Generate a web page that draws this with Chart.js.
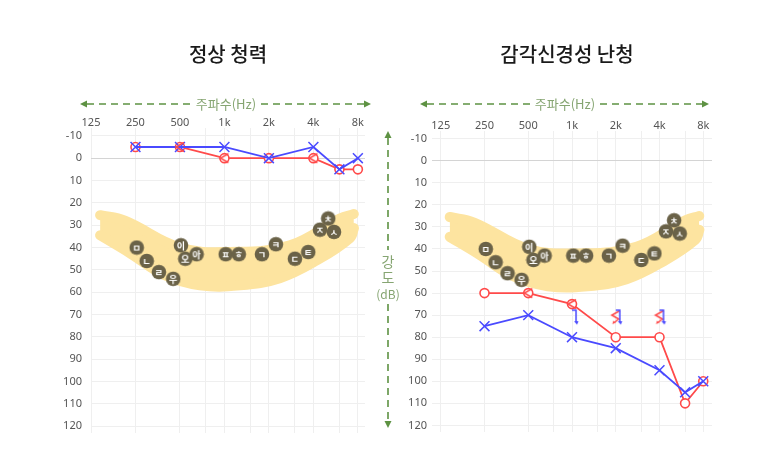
<!DOCTYPE html>
<html>
<head>
<meta charset="utf-8">
<script src="https://cdn.jsdelivr.net/npm/chart.js@4.4.0/dist/chart.umd.min.js"></script>
<style>
body { margin: 0; background: #fff; width: 757px; height: 462px; position: relative; overflow: hidden; }
.box { position: absolute; top: 0; height: 462px; }
#overlay { position: absolute; left: 0; top: 0; pointer-events: none; font-family: "Noto Sans CJK KR", sans-serif; }
</style>
</head>
<body>
<div class="box" style="left:0;width:378px"><canvas id="normal"></canvas></div>
<div class="box" style="left:378px;width:379px"><canvas id="loss"></canvas></div>
<svg id="overlay" width="757" height="462">
  <text x="228" y="62" text-anchor="middle" font-size="20" font-weight="500" fill="#1a1a1a">정상 청력</text>
  <text x="567" y="62" text-anchor="middle" font-size="20" font-weight="500" fill="#1a1a1a">감각신경성 난청</text>
  <g stroke="#5e9243" stroke-width="1.6" stroke-dasharray="7 5" fill="none">
    <line x1="87" y1="104" x2="192" y2="104"/>
    <line x1="261" y1="104" x2="364" y2="104"/>
    <line x1="427" y1="104" x2="531" y2="104"/>
    <line x1="600" y1="104" x2="702" y2="104"/>
    <line x1="388" y1="138" x2="388" y2="250"/>
    <line x1="388" y1="304" x2="388" y2="421"/>
  </g>
  <g fill="#5e9243">
    <polygon points="80,104 87,100.5 87,107.5"/>
    <polygon points="371,104 364,100.5 364,107.5"/>
    <polygon points="420,104 427,100.5 427,107.5"/>
    <polygon points="709,104 702,100.5 702,107.5"/>
    <polygon points="388,131 384.5,138 391.5,138"/>
    <polygon points="388,428 384.5,421 391.5,421"/>
  </g>
  <g fill="#86a572" text-anchor="middle">
    <text x="226" y="108.5" font-size="13">주파수(Hz)</text>
    <text x="565" y="108.5" font-size="13">주파수(Hz)</text>
    <text x="388" y="267" font-size="14">강</text>
    <text x="388" y="283" font-size="14">도</text>
    <text x="388" y="299" font-size="12">(dB)</text>
  </g>
</svg>
<script>
// 주파수 / 눈금
var freqs = [250, 500, 1000, 2000, 4000, 6000, 8000];
var gridFreqs = [125, 250, 500, 750, 1000, 1500, 2000, 3000, 4000, 6000, 8000];
var freqLabels = { 125: '125', 250: '250', 500: '500', 1000: '1k', 2000: '2k', 4000: '4k', 8000: '8k' };
var dbTicks = [-10, 0, 10, 20, 30, 40, 50, 60, 70, 80, 90, 100, 110, 120];

// 정상 청력
var normalRightAir = [-5, -5, 0, 0, 0, 5, 5];
var normalLeftAir = [-5, -5, -5, 0, -5, 5, 0];
var normalBoneFreqs = [500, 1000, 4000];
var normalRightBone = [-5, 0, 0];

// 감각신경성 난청
var lossRightAir = [60, 60, 65, 80, 80, 110, 100];
var lossLeftAir = [75, 70, 80, 85, 95, 105, 100];
var lossBoneFreqs = [500, 1000, 2000, 4000];
var lossRightBone = [60, 65, 70, 70];
var lossRightNoResp = [false, false, true, true];
var lossLeftBoneFreqs = [1000, 2000, 4000];
var lossLeftBone = [70, 70, 70];

// 말소리 바나나
var speechSounds = ['ㅁ', 'ㄴ', 'ㄹ', '우', '이', '오', '아', 'ㅍ', 'ㅎ', 'ㄱ', 'ㅋ', 'ㄷ', 'ㅌ', 'ㅈ', 'ㅊ', 'ㅅ'];
var speechFreqs = [255, 298, 360, 450, 508, 543, 648, 1020, 1250, 1794, 2230, 3000, 3690, 4430, 5040, 5510];
var speechDb = [40, 46, 51, 54, 39, 45, 43, 43, 43, 43, 38.5, 45, 42, 32, 27, 33];
var bananaTopFreqs = [144, 212, 500, 1087, 2775, 6047, 7510];
var bananaTopDb = [25.5, 28, 40, 42, 39, 27, 25];
var bananaBottomFreqs = [144, 229, 395, 682, 1276, 2374, 4232, 7060, 7530];
var bananaBottomDb = [34.5, 42.5, 52.4, 56.9, 56.9, 53.7, 45.7, 35.8, 31.3];

var RED = '#ff4a4a';
var BLUE = '#4a4aff';
var BANANA = '#fde4a0';

function pts(xs, ys) {
    return xs.map(function (x, i) { return { x: x, y: ys[i] }; });
}

function icon(size, draw) {
    var c = document.createElement('canvas');
    c.width = size; c.height = size;
    var g = c.getContext('2d');
    draw(g, size / 2);
    return c;
}

// 우측 골도 '<'
function boneRightIcon(noResp) {
    return icon(24, function (g, c) {
        g.strokeStyle = RED; g.fillStyle = RED; g.lineWidth = 1.5;
        g.beginPath(); g.moveTo(c + 4, c - 4.5); g.lineTo(c - 4, c); g.lineTo(c + 4, c + 4.5); g.stroke();
        if (noResp) {
            g.beginPath(); g.moveTo(c + 2, c + 4.5); g.lineTo(c - 1, c + 7); g.stroke();
            g.beginPath(); g.moveTo(c - 3.5, c + 9); g.lineTo(c - 2.5, c + 5.5); g.lineTo(c, c + 7.5); g.closePath(); g.fill();
        }
    });
}

// 좌측 골도 ']' (무반응)
var boneLeftIcon = icon(24, function (g, c) {
    g.strokeStyle = BLUE; g.fillStyle = BLUE; g.lineWidth = 1.5;
    g.beginPath(); g.moveTo(c, c - 5); g.lineTo(c + 4, c - 5); g.lineTo(c + 4, c + 6); g.stroke();
    g.beginPath(); g.moveTo(c + 2, c + 6); g.lineTo(c + 6.5, c + 6); g.lineTo(c + 5, c + 9.5); g.closePath(); g.fill();
});

var soundIcons = speechSounds.map(function (s) {
    return icon(16, function (g, c) {
        g.fillStyle = '#6a6248';
        g.beginPath(); g.arc(c, c, 7.3, 0, Math.PI * 2); g.fill();
        g.fillStyle = '#fff';
        g.font = 'bold 9px "Noto Sans CJK KR"';
        g.textAlign = 'center'; g.textBaseline = 'middle';
        g.fillText(s, c, c + 0.5);
    });
});

function bananaSets() {
    return [{
        data: pts(bananaTopFreqs, bananaTopDb),
        borderColor: BANANA, borderWidth: 10, borderCapStyle: 'round', borderJoinStyle: 'round',
        pointRadius: 0, tension: 0.4, fill: false, order: 10
    }, {
        data: pts(bananaBottomFreqs, bananaBottomDb),
        borderColor: BANANA, backgroundColor: BANANA, borderWidth: 10, borderCapStyle: 'round', borderJoinStyle: 'round',
        pointRadius: 0, tension: 0.4, fill: '-1', order: 10
    }, {
        data: pts(speechFreqs, speechDb),
        showLine: false, pointStyle: soundIcons, order: 9
    }];
}

function airSets(rightAir, leftAir) {
    return [{
        data: pts(freqs, rightAir),
        borderColor: RED, borderWidth: 1.8, pointStyle: 'circle', pointRadius: 4.5,
        pointBorderWidth: 1.6, pointBorderColor: RED, pointBackgroundColor: '#fff', order: 5
    }, {
        data: pts(freqs, leftAir),
        borderColor: BLUE, borderWidth: 1.8, pointStyle: 'crossRot', pointRadius: 7,
        pointBorderWidth: 1.5, pointBorderColor: BLUE, order: 4
    }];
}

function makeChart(id, datasets, o) {
    new Chart(document.getElementById(id).getContext('2d'), {
        type: 'line',
        data: { datasets: datasets },
        options: {
            responsive: true,
            maintainAspectRatio: false,
            animation: false,
            layout: { padding: o.padding },
            plugins: { legend: { display: false }, tooltip: { enabled: false } },
            scales: {
                x: {
                    type: 'logarithmic',
                    position: 'top',
                    min: o.xMin, max: o.xMax,
                    afterBuildTicks: function (s) { s.ticks = gridFreqs.map(function (v) { return { value: v }; }); },
                    afterFit: function (s) { s.height = 20; },
                    grid: { color: '#efefef', drawTicks: false },
                    border: { display: false },
                    ticks: {
                        autoSkip: false, maxRotation: 0, padding: o.xPad, color: '#555',
                        font: { size: 11, family: '"Noto Sans"' },
                        callback: function (v) { return freqLabels[v] || ''; }
                    }
                },
                y: {
                    reverse: true,
                    min: -13.5, max: 123,
                    afterBuildTicks: function (s) { s.ticks = dbTicks.map(function (v) { return { value: v }; }); },
                    afterFit: function (s) { s.width = 50; },
                    grid: {
                        color: function (ctx) { return ctx.tick && ctx.tick.value === 0 ? '#d4d4d4' : '#efefef'; },
                        drawTicks: false
                    },
                    border: { display: false },
                    ticks: { padding: o.yPad, color: '#555', font: { size: 11, family: '"Noto Sans"' } }
                }
            }
        }
    });
}

makeChart('normal', bananaSets().concat(airSets(normalRightAir, normalLeftAir)).concat([{
    data: pts(normalBoneFreqs, normalRightBone),
    showLine: false, pointStyle: boneRightIcon(false), order: 2
}]), { padding: { left: 41, right: 13, top: 108, bottom: 29 }, xMin: 125, xMax: 8940, xPad: -1, yPad: 9 });

makeChart('loss', bananaSets().concat(airSets(lossRightAir, lossLeftAir)).concat([{
    data: pts(lossBoneFreqs, lossRightBone),
    showLine: false, pointStyle: lossRightNoResp.map(boneRightIcon), order: 2
}, {
    data: pts(lossLeftBoneFreqs, lossLeftBone),
    showLine: false, pointStyle: boneLeftIcon, order: 1
}]), { padding: { left: 4, right: 45, top: 111, bottom: 30 }, xMin: 108.8, xMax: 9190, xPad: -1, yPad: 5 });
</script>
</body>
</html>
